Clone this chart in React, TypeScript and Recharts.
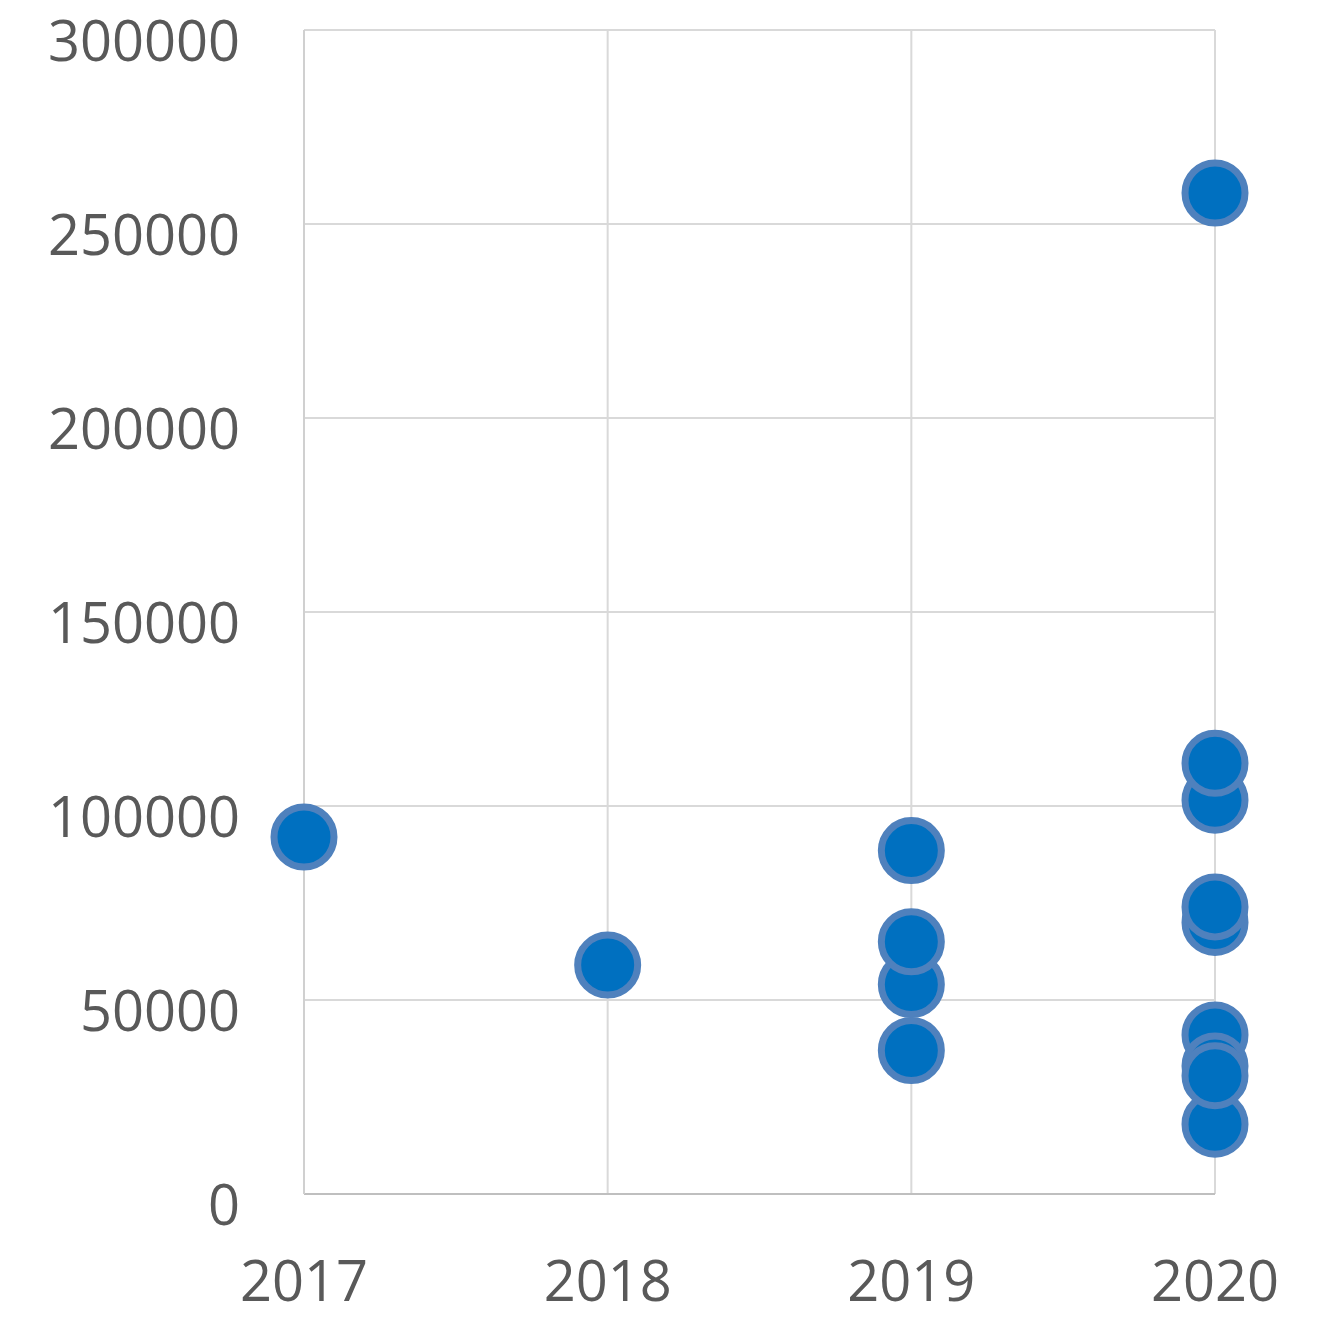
import React from "react";
import { ScatterChart, Scatter, XAxis, YAxis, CartesianGrid } from "recharts";

const years = [2017, 2018, 2019, 2020];
const yTicks = [0, 50000, 100000, 150000, 200000, 250000, 300000];

// values, per year (draw order = later on top)
const values2017 = [92000];
const values2018 = [59000];
const values2019 = [88500, 54000, 65000, 37000];
const values2020 = [258000, 18000, 41000, 33000, 30500, 70000, 74000, 101500, 111000];

const points = [
  ...values2017.map((v) => ({ x: 2017, y: v })),
  ...values2018.map((v) => ({ x: 2018, y: v })),
  ...values2019.map((v) => ({ x: 2019, y: v })),
  ...values2020.map((v) => ({ x: 2020, y: v })),
];

const font = "'Open Sans', sans-serif";

const YTick = (props: any) => {
  const { x, y, payload } = props;
  return (
    <text x={x} y={y + 31} textAnchor="end" fontSize={56} fontFamily={font} fill="#595959">
      {payload.value}
    </text>
  );
};

const XTick = (props: any) => {
  const { x, y, payload } = props;
  return (
    <text x={x} y={y + 107} textAnchor="middle" fontSize={56} fontFamily={font} fill="#595959">
      {payload.value}
    </text>
  );
};

const Dot = (props: any) => {
  const { cx, cy } = props;
  return <circle cx={cx} cy={cy} r={30} fill="#0070C0" stroke="#4F81BD" strokeWidth={7} />;
};

export default function App() {
  return (
    <div style={{ position: "absolute", left: 0, top: 0, background: "#fff" }}>
      <ScatterChart width={1330} height={1319} margin={{ top: 30, right: 115, bottom: 0, left: 0 }}>
        <CartesianGrid stroke="#D9D9D9" strokeWidth={2} />
        <XAxis
          type="number"
          dataKey="x"
          domain={[2017, 2020]}
          ticks={years}
          height={125}
          tickLine={false}
          tickSize={0}
          tickMargin={0}
          axisLine={{ stroke: "#BFBFBF", strokeWidth: 2 }}
          tick={<XTick />}
        />
        <YAxis
          type="number"
          dataKey="y"
          domain={[0, 300000]}
          ticks={yTicks}
          width={304}
          tickLine={false}
          tickSize={0}
          tickMargin={64}
          axisLine={{ stroke: "#D0D0D0", strokeWidth: 2 }}
          tick={<YTick />}
        />
        <Scatter data={points} isAnimationActive={false} shape={<Dot />} />
      </ScatterChart>
    </div>
  );
}
